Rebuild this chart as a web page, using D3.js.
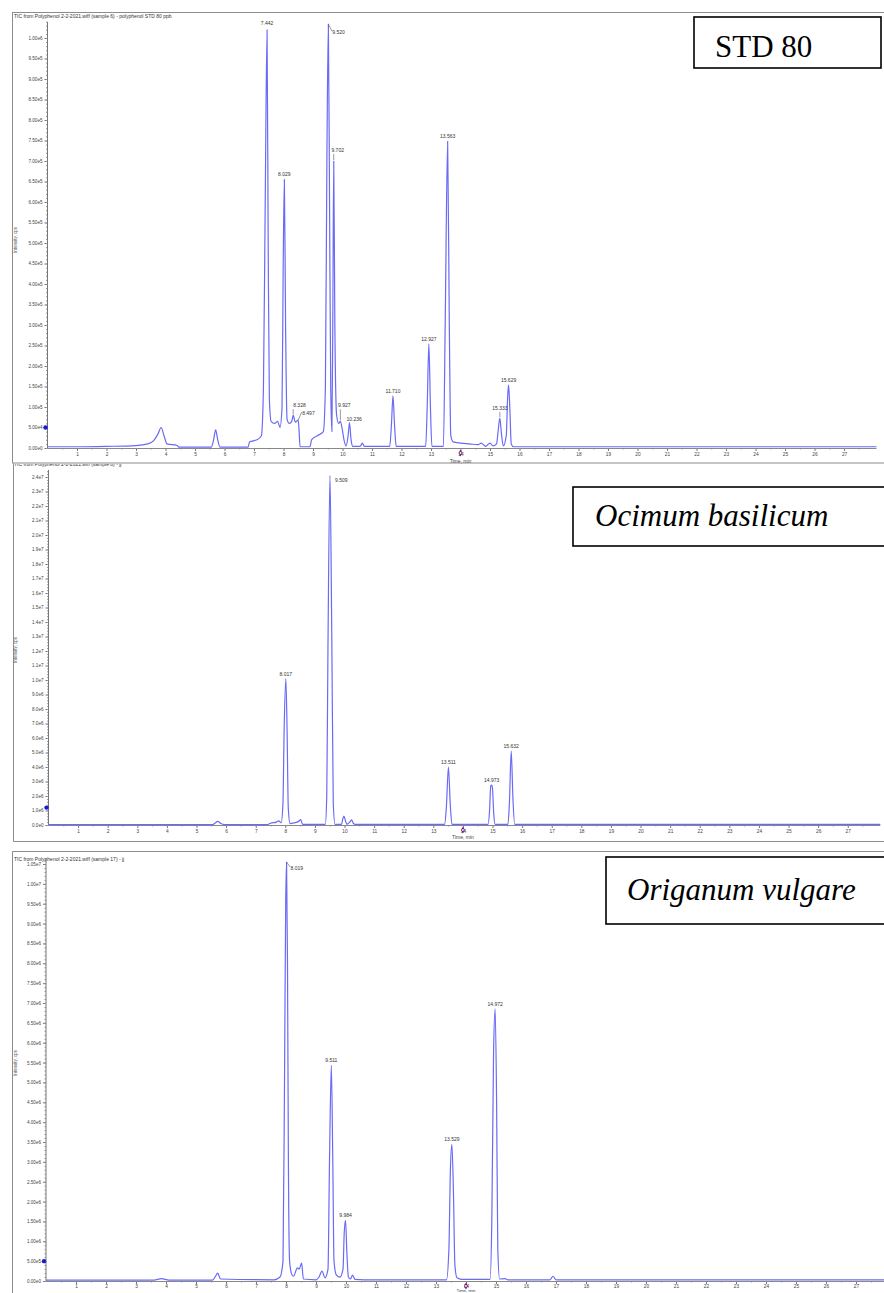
<!DOCTYPE html>
<head>
<meta charset="UTF-8">
<script src="https://cdnjs.cloudflare.com/ajax/libs/d3/7.8.5/d3.min.js"></script>
<style>
  body { margin: 0; background: #fff; }
  text { font-family: "Liberation Sans", Arial, sans-serif; }
</style>
</head>
<body>
<svg id="chrom"></svg>
<script>
var width = 884, height = 1293;

//********** DATA: [time (min), intensity (cps)] **********
var std80Trace = [
  [0, 0.003e6], [1, 0.003e6], [2, 0.004e6], [3, 0.006e6], [3.4, 0.01e6], [3.6, 0.018e6],
  [3.75, 0.035e6], [3.85, 0.05e6], [3.95, 0.03e6], [4.05, 0.01e6], [4.4, 0.006e6], [4.45, 0.002e6],
  [5.55, 0.002e6], [5.63, 0.02e6], [5.7, 0.044e6], [5.77, 0.02e6], [5.85, 0.002e6], [6.8, 0.002e6],
  [6.85, 0.015e6], [7.1, 0.02e6], [7.25, 0.03e6], [7.32, 0.15e6], [7.38, 0.6e6], [7.442, 1.02e6],
  [7.48, 0.5e6], [7.52, 0.12e6], [7.58, 0.065e6], [7.7, 0.06e6], [7.8, 0.065e6], [7.88, 0.05e6],
  [7.95, 0.1e6], [7.99, 0.45e6], [8.029, 0.655e6], [8.07, 0.3e6], [8.12, 0.07e6], [8.2, 0.06e6],
  [8.28, 0.065e6], [8.328, 0.08e6], [8.4, 0.063e6], [8.497, 0.068e6], [8.53, 0.04e6], [8.56, 0.003e6],
  [8.9, 0.003e6], [8.95, 0.02e6], [9.15, 0.03e6], [9.35, 0.04e6], [9.42, 0.15e6], [9.47, 0.7e6],
  [9.52, 1.034e6], [9.56, 0.6e6], [9.6, 0.15e6], [9.64, 0.04e6], [9.67, 0.3e6], [9.702, 0.70e6],
  [9.74, 0.3e6], [9.8, 0.08e6], [9.87, 0.06e6], [9.927, 0.065e6], [9.98, 0.05e6], [10.05, 0.02e6],
  [10.12, 0.005e6], [10.19, 0.03e6], [10.236, 0.062e6], [10.29, 0.02e6], [10.35, 0.004e6], [10.6, 0.004e6],
  [10.67, 0.012e6], [10.74, 0.004e6], [11.6, 0.004e6], [11.66, 0.06e6], [11.71, 0.127e6], [11.76, 0.06e6],
  [11.82, 0.004e6], [12.82, 0.004e6], [12.87, 0.1e6], [12.927, 0.254e6], [12.98, 0.1e6], [13.03, 0.004e6],
  [13.42, 0.004e6], [13.48, 0.3e6], [13.563, 0.748e6], [13.62, 0.3e6], [13.67, 0.03e6], [13.75, 0.015e6],
  [14.0, 0.012e6], [14.3, 0.01e6], [14.6, 0.008e6], [14.7, 0.012e6], [14.85, 0.004e6], [15.0, 0.012e6],
  [15.1, 0.005e6], [15.22, 0.01e6], [15.28, 0.045e6], [15.333, 0.073e6], [15.38, 0.04e6], [15.45, 0.005e6],
  [15.55, 0.03e6], [15.6, 0.13e6], [15.629, 0.154e6], [15.67, 0.1e6], [15.72, 0.01e6], [15.8, 0.003e6],
  [28.1, 0.003e6]
];
var std80Peaks = [7.442, 8.029, 8.328, 8.497, 9.520, 9.702, 9.927, 10.236, 11.710, 12.927, 13.563, 15.333, 15.629];

var ocimumTrace = [
  [0, 0.03e6], [5.55, 0.03e6], [5.62, 0.12e6], [5.72, 0.25e6], [5.82, 0.1e6], [5.95, 0.03e6],
  [7.4, 0.03e6], [7.5, 0.12e6], [7.7, 0.2e6], [7.78, 0.28e6], [7.86, 0.15e6], [7.92, 1.5e6],
  [7.96, 6.5e6], [8.017, 10.1e6], [8.06, 6.5e6], [8.1, 1.2e6], [8.16, 0.1e6], [8.3, 0.15e6],
  [8.45, 0.25e6], [8.52, 0.38e6], [8.58, 0.05e6], [9.35, 0.05e6], [9.4, 2e6], [9.44, 12e6],
  [9.509, 24.1e6], [9.57, 13e6], [9.62, 1.5e6], [9.68, 0.05e6], [9.9, 0.05e6], [9.94, 0.4e6],
  [9.98, 0.62e6], [10.03, 0.3e6], [10.08, 0.05e6], [10.18, 0.2e6], [10.24, 0.35e6], [10.3, 0.1e6],
  [10.36, 0.04e6], [13.38, 0.04e6], [13.44, 1.2e6], [13.511, 4.0e6], [13.57, 1.5e6], [13.63, 0.05e6],
  [14.85, 0.05e6], [14.9, 1.0e6], [14.94, 2.7e6], [14.973, 2.75e6], [15.0, 2.5e6], [15.04, 0.8e6],
  [15.09, 0.05e6], [15.52, 0.05e6], [15.57, 1.5e6], [15.632, 5.1e6], [15.69, 1.8e6], [15.75, 0.05e6],
  [28.1, 0.04e6]
];
var ocimumPeaks = [8.017, 9.509, 13.511, 14.973, 15.632];

var origanumTrace = [
  [0, 0.02e6], [3.6, 0.02e6], [3.85, 0.06e6], [4.1, 0.02e6], [5.55, 0.02e6], [5.65, 0.12e6],
  [5.72, 0.2e6], [5.82, 0.05e6], [7.6, 0.03e6], [7.8, 0.1e6], [7.9, 0.5e6], [7.95, 5e6],
  [7.99, 9.5e6], [8.019, 10.55e6], [8.05, 8e6], [8.08, 3e6], [8.12, 0.5e6], [8.2, 0.15e6],
  [8.25, 0.12e6], [8.38, 0.33e6], [8.44, 0.3e6], [8.52, 0.45e6], [8.58, 0.05e6], [9.0, 0.03e6],
  [9.1, 0.1e6], [9.2, 0.25e6], [9.3, 0.08e6], [9.4, 0.3e6], [9.45, 3e6], [9.511, 5.43e6],
  [9.56, 3e6], [9.6, 0.5e6], [9.68, 0.15e6], [9.8, 0.1e6], [9.9, 0.3e6], [9.94, 1.2e6],
  [9.984, 1.53e6], [10.03, 0.7e6], [10.08, 0.1e6], [10.15, 0.05e6], [10.22, 0.15e6], [10.3, 0.04e6],
  [10.6, 0.03e6], [13.35, 0.03e6], [13.43, 0.8e6], [13.48, 2.8e6], [13.529, 3.44e6], [13.58, 2.3e6],
  [13.63, 0.4e6], [13.7, 0.08e6], [13.85, 0.04e6], [14.8, 0.04e6], [14.86, 1.5e6], [14.92, 5.8e6],
  [14.972, 6.85e6], [15.02, 4.5e6], [15.06, 0.8e6], [15.12, 0.05e6], [15.3, 0.06e6], [15.4, 0.03e6],
  [16.8, 0.03e6], [16.9, 0.12e6], [17.0, 0.03e6], [28.1, 0.03e6]
];
var origanumPeaks = [8.019, 9.511, 9.984, 13.529, 14.972];

var xTickLabels = d3.range(1, 28);
var panelTitles = [
  "TIC from Polyphenol 2-2-2021.wiff (sample 6) - polyphenol STD 80 ppb",
  "TIC from Polyphenol 2-2-2021.wiff (sample 8) - jj",
  "TIC from Polyphenol 2-2-2021.wiff (sample 17) - jj"
];
var sampleNames = ["STD 80", "Ocimum basilicum", "Origanum vulgare"];

//********** LAYOUT *********************
var panels = [
  {
    trace: std80Trace, peaks: std80Peaks, title: panelTitles[0], name: sampleNames[0],
    xRange: [47.5, 876.5], yDomain: [0, 1e6], yRange: [448, 38], axisTop: 22,
    yMajor: d3.range(0, 1.0001e6, 0.05e6), yMinor: d3.range(0, 1.05e6, 0.01e6), yFmt: ".2e",
    marker: 0.05e6, titleY: 18, yLabelY: 240, timeDy: 15, timeFs: 5, xPad: 1.5,
    box: { x: 694, y: 17, w: 187, h: 51, tx: 715, ty: 57, italic: false },
    labels: {
      7.442: { dx: 0, dy: -5 }, 8.328: { dx: 0, dy: -8, anchor: "start", tick: true },
      8.497: { dx: 4, dy: -5, anchor: "start", lead: true }, 9.520: { dx: 4, dy: 10, anchor: "start", lead: true },
      9.702: { dx: 4, dy: -9, tick: true }, 9.927: { dx: 4, dy: -14, tick: true },
      10.236: { dx: -3, dy: -2, anchor: "start" }, 15.333: { dx: 0, dy: -8, tick: true }
    }
  },
  {
    trace: ocimumTrace, peaks: ocimumPeaks, title: panelTitles[1], name: sampleNames[1],
    xRange: [48.5, 880.3], yDomain: [0, 2.4e7], yRange: [825, 477], axisTop: 470,
    yMajor: d3.range(0, 2.40001e7, 1e6), yMinor: d3.range(0, 2.45e7, 0.2e6), yFmt: ".1e",
    marker: 1.2e6, titleY: 466, yLabelY: 650, timeDy: 14, timeFs: 5, xPad: 1.5,
    box: { x: 573, y: 487, w: 330, h: 59, tx: 595, ty: 526, italic: true },
    labels: { 9.509: { dx: 5, dy: 6, anchor: "start" } }
  },
  {
    trace: origanumTrace, peaks: origanumPeaks, title: panelTitles[2], name: sampleNames[2],
    xRange: [46, 889], yDomain: [0, 1.05e7], yRange: [1281, 864], axisTop: 858,
    yMajor: d3.range(0, 1.05001e7, 0.5e6), yMinor: d3.range(0, 1.07e7, 0.1e6), yFmt: ".2e",
    marker: 0.5e6, titleY: 861, yLabelY: 1063, timeDy: 11.4, timeFs: 4.4, xPad: 0.5,
    box: { x: 606, y: 857, w: 290, h: 67, tx: 627, ty: 900, italic: true },
    labels: { 8.019: { dx: 4, dy: 8, anchor: "start", lead: true } }
  }
];

var svg = d3.select("#chrom").attr("width", width).attr("height", height);
svg.append("rect").attr("width", width).attr("height", height).attr("fill", "#fff");

// panel frames
var frame = svg.append("g").attr("fill", "none").attr("stroke", "#8c8c8c").attr("stroke-width", 1);
frame.append("rect").attr("x", 12.5).attr("y", 12.5).attr("width", 900).attr("height", 450.5);
frame.append("path").attr("d", "M13.5,463.5V841.5H900");
frame.append("path").attr("d", "M900,851.5H12.5V1300");

svg.append("clipPath").attr("id", "p2clip").append("rect")
  .attr("x", 0).attr("y", 464).attr("width", width).attr("height", 400);

var sci = function (f) {
  var fm = d3.format(f);
  return function (d) { return fm(d).replace("e+", "e"); };
};

panels.forEach(function (p, i) {
  var x = d3.scaleLinear().domain([0, 28.1]).range(p.xRange);
  var y = d3.scaleLinear().domain(p.yDomain).range(p.yRange);
  var g = svg.append("g");
  var x0 = p.xRange[0], y0 = y(0);

  // title
  g.append("text").attr("x", 14).attr("y", p.titleY).attr("font-size", 5).attr("fill", "#333")
    .attr("clip-path", i === 1 ? "url(#p2clip)" : null).text(p.title);

  // y axis title
  g.append("text").attr("transform", "translate(17," + p.yLabelY + ") rotate(-90)")
    .attr("text-anchor", "middle").attr("font-size", 4.5).attr("fill", "#555").text("Intensity, cps");

  // y axis
  var yAx = g.append("g").attr("transform", "translate(" + x0 + ",0)")
    .call(d3.axisLeft(y).tickValues(p.yMajor).tickFormat(sci(p.yFmt)).tickSize(3).tickPadding(2));
  yAx.select(".domain").remove();
  yAx.selectAll("line").attr("stroke", "#777");
  yAx.selectAll("text").attr("font-size", 4.6).attr("fill", "#444")
    .style("font-family", "'Liberation Sans', Arial, sans-serif");
  var yMin = g.append("g").attr("transform", "translate(" + x0 + ",0)")
    .call(d3.axisLeft(y).tickValues(p.yMinor).tickFormat("").tickSize(1.5));
  yMin.select(".domain").remove();
  yMin.selectAll("line").attr("stroke", "#999");
  g.append("line").attr("x1", x0).attr("x2", x0).attr("y1", y0).attr("y2", p.axisTop)
    .attr("stroke", "#777");

  // x axis
  var xAx = g.append("g").attr("transform", "translate(0," + y0 + ")")
    .call(d3.axisBottom(x).tickValues(xTickLabels).tickFormat(d3.format("d")).tickSize(3).tickPadding(p.xPad));
  xAx.select(".domain").remove();
  xAx.selectAll("line").attr("stroke", "#777");
  xAx.selectAll("text").attr("font-size", 4.8).attr("fill", "#444")
    .style("font-family", "'Liberation Sans', Arial, sans-serif");
  var xMin = g.append("g").attr("transform", "translate(0," + y0 + ")")
    .call(d3.axisBottom(x).tickValues(d3.range(0.5, 28, 1)).tickFormat("").tickSize(1.5));
  xMin.select(".domain").remove();
  xMin.selectAll("line").attr("stroke", "#999");
  g.append("line").attr("x1", x0).attr("x2", p.xRange[1]).attr("y1", y0 + 0.5).attr("y2", y0 + 0.5)
    .attr("stroke", "#888");
  g.append("text").attr("x", x(14)).attr("y", y0 + p.timeDy).attr("text-anchor", "middle")
    .attr("font-size", p.timeFs).attr("fill", "#444").text("Time, min");

  // purple cursor marker on time axis
  var mk = g.append("g").attr("transform", "translate(" + x(14) + "," + (y0 + 5) + ")");
  mk.append("path").attr("d", d3.symbol(d3.symbolDiamond, 14)()).attr("fill", "#7a1f7a");
  mk.append("circle").attr("r", 0.9).attr("fill", "#fff");

  // blue marker on intensity axis
  g.append("circle").attr("cx", x0 - 2).attr("cy", y(p.marker)).attr("r", 2.2).attr("fill", "#1a1ad0");

  // trace
  var line = d3.line().x(function (d) { return x(d[0]); }).y(function (d) { return y(d[1]); })
    .curve(d3.curveMonotoneX);
  g.append("path").datum(p.trace).attr("d", line).attr("fill", "none")
    .attr("stroke", "#6a6af6").attr("stroke-width", 1.2).attr("stroke-linejoin", "round");

  // peak labels
  var lbl = g.append("g");
  p.peaks.forEach(function (t) {
    var pt = p.trace.find(function (d) { return Math.abs(d[0] - t) < 1e-6; });
    var px = x(t), py = y(pt[1]);
    var o = p.labels[t] || { dx: 0, dy: -3 };
    var tx = px + o.dx, ty = py + o.dy;
    lbl.append("text").attr("x", tx).attr("y", ty).attr("text-anchor", o.anchor || "middle")
      .attr("font-size", 5).attr("fill", "#333").text(d3.format(".3f")(t));
    if (o.tick) {
      lbl.append("line").attr("x1", px).attr("x2", px).attr("y1", ty + 2).attr("y2", py - 1)
        .attr("stroke", "#555").attr("stroke-width", 0.6);
    }
    if (o.lead) {
      lbl.append("line").attr("x1", px).attr("y1", py).attr("x2", tx - 0.5).attr("y2", ty - 3)
        .attr("stroke", "#555").attr("stroke-width", 0.6);
    }
  });

  // sample name box
  var b = p.box;
  g.append("rect").attr("x", b.x).attr("y", b.y).attr("width", b.w).attr("height", b.h)
    .attr("fill", "#fff").attr("stroke", "#000").attr("stroke-width", 1.6);
  g.append("text").attr("x", b.tx).attr("y", b.ty).attr("font-size", 31)
    .style("font-family", "'Liberation Serif', 'Times New Roman', serif")
    .attr("font-style", b.italic ? "italic" : "normal").attr("fill", "#000").text(p.name);
});
</script>
</body>
